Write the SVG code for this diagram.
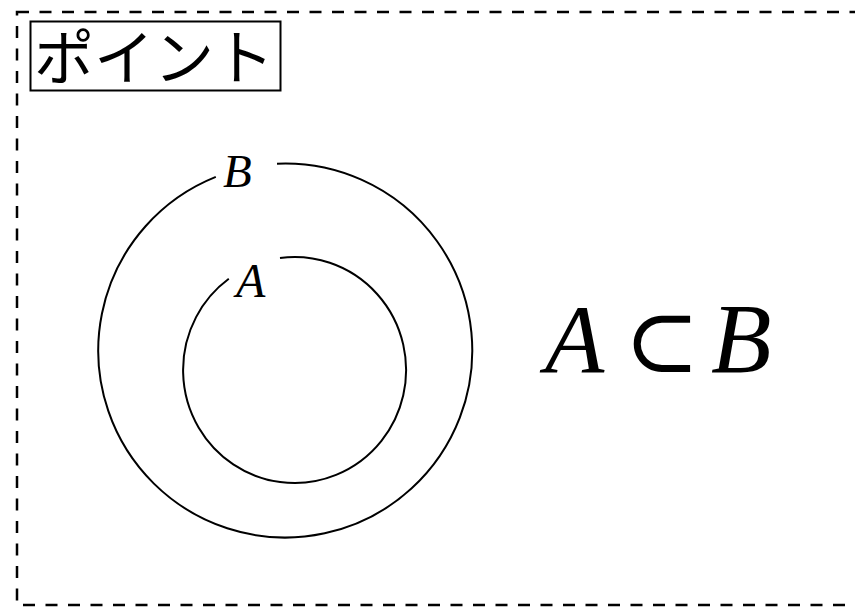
<svg xmlns="http://www.w3.org/2000/svg" width="855" height="607" viewBox="0 0 855 607">
<style>
.ln{fill:none;stroke:#000;stroke-width:2}
.mi{font-family:"Liberation Serif","DejaVu Serif",serif;font-style:italic;fill:#000}
</style>
<rect x="0" y="0" width="855" height="607" fill="#fff"/>
<rect id="frame" x="17" y="12" width="860" height="593" fill="none" stroke="#000" stroke-width="2.5" stroke-dasharray="12 10.5"/>
<g id="title">
<rect class="ln" x="30.5" y="21.5" width="250" height="69"/>
<text x="34" y="80" font-family="Noto Sans CJK JP, sans-serif" font-size="60" fill="#000">ポイント</text>
</g>
<g id="setB">
<path class="ln" d="M 277 163.7 A 187 187 0 1 1 215.8 176.9"/>
<text class="mi" x="223" y="187" font-size="47">B</text>
</g>
<g id="setA">
<path class="ln" d="M 280 258 A 111.5 113 0 1 1 228.8 278.8"/>
<text class="mi" x="236" y="297" font-size="48">A</text>
</g>
<g id="formula">
<text class="mi" x="545" y="372" font-size="97">A</text>
<text x="624" y="372" font-family="DejaVu Serif, serif" font-size="90" fill="#000">⊂</text>
<text class="mi" x="711" y="372" font-size="99">B</text>
</g>
</svg>
